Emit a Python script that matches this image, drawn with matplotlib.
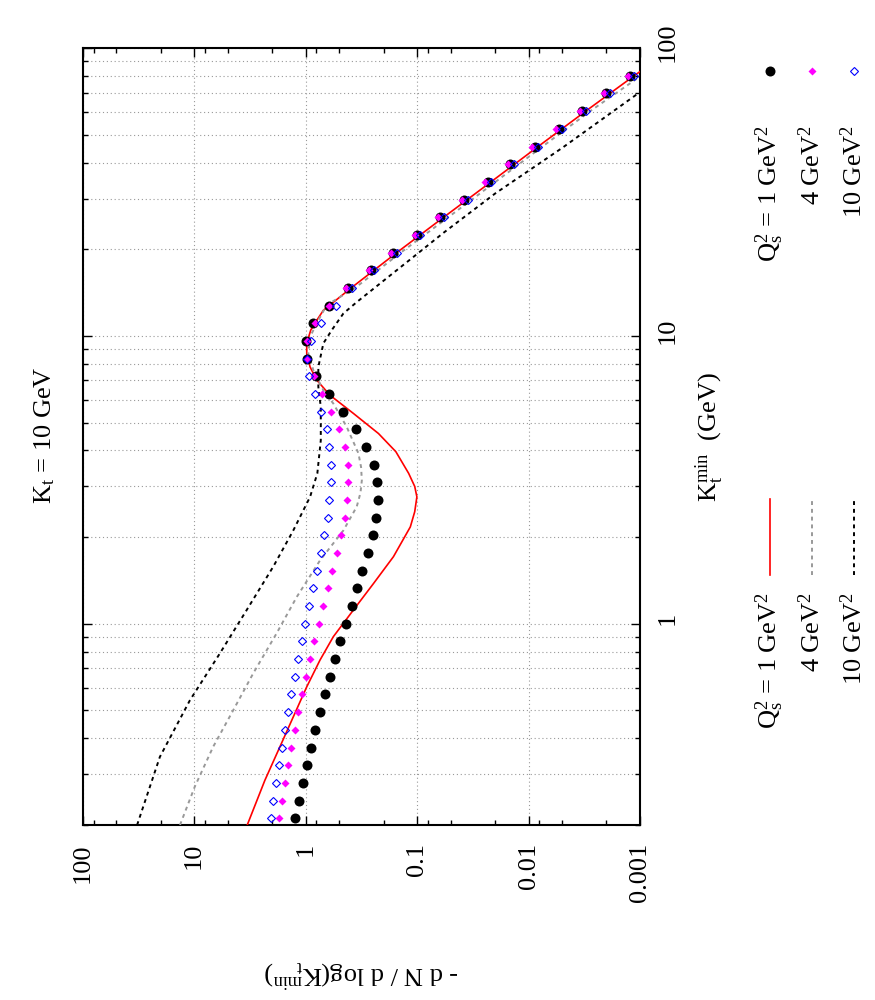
"""-dN/dlog(Kt_min) vs Kt_min for Kt = 10 GeV, drawn in the rotated (portrait) layout."""

import matplotlib
matplotlib.use("Agg")
import matplotlib.pyplot as plt
import matplotlib.transforms as mtransforms
from matplotlib.lines import Line2D
from matplotlib.ticker import LogLocator, NullFormatter, FixedLocator

plt.rcParams["font.family"] = "Liberation Serif"
plt.rcParams["mathtext.fontset"] = "custom"
plt.rcParams["mathtext.rm"] = "Liberation Serif"
plt.rcParams["mathtext.default"] = "rm"

# ---- data ----
# K_t^min of the point series (GeV)
kt_pts = [0.2112, 0.2432, 0.2802, 0.3227, 0.3717, 0.4281, 0.4932, 0.5681, 0.6543,
          0.7537, 0.8682, 1.0, 1.152, 1.327, 1.528, 1.760, 2.028, 2.336, 2.691,
          3.099, 3.570, 4.111, 4.736, 5.455, 6.284, 7.238, 8.337, 9.603, 11.06,
          12.74, 14.68, 16.90, 19.47, 22.43, 25.83, 29.76, 34.28, 39.48, 45.48,
          52.39, 60.34, 69.51, 80.06]
pts_q1 = [1.245, 1.153, 1.062, 0.977, 0.894, 0.818, 0.738, 0.670, 0.604, 0.545,
          0.488, 0.434, 0.385, 0.343, 0.310, 0.275, 0.249, 0.234, 0.225, 0.228,
          0.244, 0.285, 0.352, 0.464, 0.620, 0.811, 0.977, 0.991, 0.853, 0.620,
          0.413, 0.260, 0.163, 0.1005, 0.0620, 0.0378, 0.0233, 0.0146, 0.00881,
          0.00537, 0.00330, 0.00200, 0.00122]
pts_q4 = [1.73, 1.64, 1.53, 1.44, 1.34, 1.245, 1.16, 1.08, 0.99, 0.912,
          0.835, 0.762, 0.698, 0.633, 0.575, 0.519, 0.481, 0.446, 0.422, 0.413,
          0.416, 0.446, 0.498, 0.587, 0.713, 0.841, 0.966, 0.977, 0.828, 0.612,
          0.43, 0.272, 0.171, 0.105, 0.065, 0.0397, 0.0245, 0.0153, 0.00925,
          0.00564, 0.00347, 0.0021, 0.00128]
pts_q10 = [2.05, 1.95, 1.83, 1.73, 1.64, 1.53, 1.44, 1.35, 1.25, 1.17,
           1.08, 1.01, 0.93, 0.857, 0.795, 0.731, 0.687, 0.633, 0.612, 0.591,
           0.591, 0.612, 0.646, 0.731, 0.828, 0.927, 0.966, 0.889, 0.731, 0.533,
           0.385, 0.242, 0.152, 0.0935, 0.0577, 0.0352, 0.0217, 0.0136, 0.0082,
           0.0050, 0.00307, 0.00186, 0.00114]

# curves
kt_q1 = [0.2, 0.286, 0.374, 0.475, 0.604, 0.748, 0.902, 1.116, 1.38, 1.71, 2.17,
         2.45, 2.76, 3.0, 3.33, 3.96, 4.58, 5.38, 6.22, 7.02, 7.80, 8.69, 9.42,
         10.47, 11.33, 12.27, 14.68, 19.47, 25.83, 34.28, 45.48, 60.34, 80.06, 84.0]
line_q1 = [3.34, 2.32, 1.70, 1.29, 0.977, 0.743, 0.564, 0.373, 0.246, 0.163, 0.115,
           0.105, 0.1004, 0.105, 0.119, 0.155, 0.222, 0.373, 0.604, 0.794, 0.912,
           0.977, 0.977, 0.90, 0.794, 0.693, 0.39, 0.152, 0.0577, 0.0217, 0.0082,
           0.00307, 0.00113, 0.00095]
kt_q4 = [0.2, 0.272, 0.374, 0.501, 0.673, 0.927, 1.24, 1.66, 2.11, 2.55, 2.85,
         3.15, 3.5, 3.91, 4.83, 5.82, 6.47, 7.60, 8.69, 9.93, 11.33, 12.8, 14.68,
         19.47, 25.83, 34.28, 45.48, 60.34, 80.06, 84.0]
line_q4 = [13.4, 9.86, 6.75, 4.46, 2.95, 1.82, 1.20, 0.743, 0.458, 0.348, 0.322,
           0.313, 0.318, 0.336, 0.428, 0.564, 0.693, 0.853, 0.946, 0.912, 0.769,
           0.646, 0.36, 0.14, 0.0525, 0.0198, 0.0075, 0.0028, 0.00098, 0.00083]
kt_q10 = [0.2, 0.345, 0.543, 0.789, 1.116, 1.58, 2.11, 2.76, 3.33, 4.34, 5.66,
          6.65, 7.80, 9.42, 10.47, 11.97, 13.1, 18.8, 22.8, 31.2, 45.1, 70.3, 75.0]
line_q10 = [32.5, 20.3, 10.9, 5.88, 3.38, 1.95, 1.29, 0.912, 0.785, 0.731, 0.731,
            0.769, 0.769, 0.693, 0.583, 0.458, 0.348, 0.108, 0.058, 0.020, 0.00494,
            0.001, 0.00079]

v_ticks = [100, 10, 1, 0.1, 0.01, 0.001]
v_tick_labels = ["100", "10", "1", "0.1", "0.01", "0.001"]
kt_ticks = [1, 10, 100]
kt_tick_labels = ["1", "10", "100"]
legend_labels = [r"Q$_s^2$ = 1 GeV$^2$", r"4 GeV$^2$", r"10 GeV$^2$"]

FS = 19
W, H = 875, 1000
fig = plt.figure(figsize=(W / 100, H / 100), dpi=100)


def fx(px):
    return px / W


def fy(py):
    return 1 - py / H


ax = fig.add_axes([fx(82.7), fy(825), fx(640) - fx(82.7), fy(48) - fy(825)])
ax.set_xscale("log")
ax.set_yscale("log")
ax.set_xlim(100, 0.001)
ax.set_ylim(0.2, 100)

grid_kw = dict(color="#999999", linestyle=(0, (1, 2.5)), linewidth=0.8)
ax.xaxis.set_major_locator(FixedLocator(v_ticks))
ax.xaxis.set_minor_locator(LogLocator(base=10, subs=(2, 5, 8), numticks=20))
ax.xaxis.set_minor_formatter(NullFormatter())
ax.set_xticklabels(v_tick_labels, rotation=90, fontsize=FS)
ax.yaxis.set_major_locator(FixedLocator(kt_ticks))
ax.yaxis.set_minor_locator(LogLocator(base=10, subs=range(2, 10), numticks=20))
ax.yaxis.set_major_formatter(NullFormatter())
ax.yaxis.set_minor_formatter(NullFormatter())
ax.grid(True, which="major", axis="x", **grid_kw)
ax.grid(True, which="both", axis="y", **grid_kw)
ax.set_axisbelow(True)

ax.tick_params(which="both", direction="in", top=True, right=True, width=1.0)
ax.tick_params(which="major", length=6.5)
ax.tick_params(which="minor", length=3.3)
ax.tick_params(axis="x", which="major", pad=13)
for s in ax.spines.values():
    s.set_linewidth(1.5)

# curves
ax.plot(line_q1, kt_q1, color="#ff0000", lw=1.2, zorder=3)
ax.plot(line_q4, kt_q4, color="#999999", lw=1.4, ls=(0, (2, 2)), zorder=3)
ax.plot(line_q10, kt_q10, color="black", lw=1.4, ls=(0, (2, 2)), zorder=3)

# points
ax.plot(pts_q1, kt_pts, "o", color="black", ms=7.2, mec="none", zorder=4)
ax.plot(pts_q4, kt_pts, "D", color="#ff00ff", ms=4.3, mec="none", zorder=5)
ax.plot(pts_q10, kt_pts, "D", mfc="none", mec="#0000ff", ms=3.9, mew=0.8, zorder=6)

# K axis tick labels on the right side (image), shifted a bit up as in gnuplot
lab_tr = mtransforms.offset_copy(
    mtransforms.blended_transform_factory(ax.transAxes, ax.transData),
    fig=fig, x=17, y=5.5, units="dots")
for k, lab in zip(kt_ticks, kt_tick_labels):
    ax.text(1.0, k, lab, transform=lab_tr, rotation=90, ha="left", va="center",
            fontsize=FS)

# titles and axis labels
fig.text(fx(45), fy(435), r"K$_t$ = 10 GeV", rotation=90, ha="center",
         va="center", fontsize=FS)
fig.text(fx(710), fy(437), r"K$_t^{min}$  (GeV)", rotation=90, ha="center",
         va="center", fontsize=FS)
fig.text(fx(361), fy(973), r"- d N / d log(K$_t^{min}$)", rotation=180,
         ha="center", va="center", fontsize=FS)

# legends (rotated)
cols = [770, 812, 854]
pt_styles = [dict(marker="o", color="black", ms=7.2, mec="none"),
             dict(marker="D", color="#ff00ff", ms=4.3, mec="none"),
             dict(marker="D", mfc="none", mec="#0000ff", ms=3.9, mew=0.8)]
ln_styles = [dict(color="#ff0000", lw=1.2),
             dict(color="#999999", lw=1.4, ls=(0, (2, 2))),
             dict(color="black", lw=1.4, ls=(0, (2, 2)))]
for c, lab, ps, ls in zip(cols, legend_labels, pt_styles, ln_styles):
    fig.add_artist(Line2D([fx(c)], [fy(70.7)], transform=fig.transFigure,
                          linestyle="none", **ps))
    fig.text(fx(c), fy(125), lab, rotation=90, ha="center", va="top", fontsize=FS)
    fig.add_artist(Line2D([fx(c), fx(c)], [fy(575), fy(499)],
                          transform=fig.transFigure, **ls))
    fig.text(fx(c), fy(592), lab, rotation=90, ha="center", va="top", fontsize=FS)

fig.savefig("out.png", dpi=100, facecolor="white")
